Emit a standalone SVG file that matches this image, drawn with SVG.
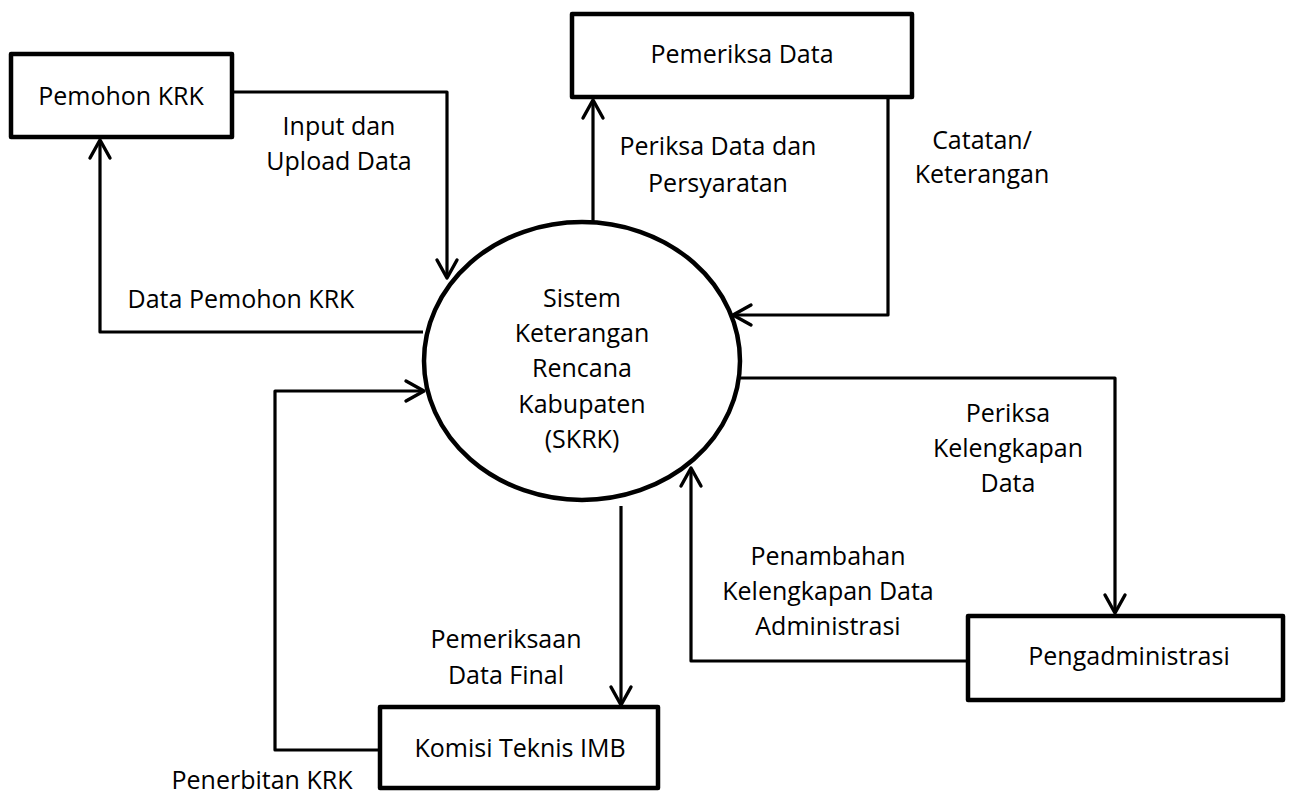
<svg xmlns="http://www.w3.org/2000/svg" width="1290" height="795" viewBox="0 0 1290 795">
<style>
.box{fill:#fff;stroke:#000;stroke-width:4.5;stroke-linejoin:round}
.proc{fill:#fff;stroke:#000;stroke-width:4.5}
.conn{fill:none;stroke:#000;stroke-width:3.2;stroke-linejoin:round;marker-end:url(#arr)}
text{font-family:"Open Sans","Liberation Sans",sans-serif;font-size:25px;fill:#000;text-anchor:middle}
</style>
<defs>
<marker id="arr" viewBox="-22 -13 26 26" markerWidth="26" markerHeight="26" refX="0" refY="0" orient="auto" markerUnits="userSpaceOnUse">
<path d="M-18,-10 L0,0 L-18,10" fill="none" stroke="#000" stroke-width="3.4" stroke-linecap="round" stroke-linejoin="round"/>
</marker>
</defs>
<rect width="1290" height="795" fill="#fff"/>
<g id="connectors">
<path class="conn" d="M232,92 H447 V278"/>
<path class="conn" d="M423,332 H100 V140"/>
<path class="conn" d="M593,223 V100"/>
<path class="conn" d="M888,97 V315 H733"/>
<path class="conn" d="M740,378 H1115 V613"/>
<path class="conn" d="M968,661 H691 V468"/>
<path class="conn" d="M621,506 V705"/>
<path class="conn" d="M380,750 H275 V391 H424"/>
<g id="labels">
<text x="339" y="135">Input dan</text>
<text x="339" y="170">Upload Data</text>
<text x="241" y="308">Data Pemohon KRK</text>
<text x="718" y="155">Periksa Data dan</text>
<text x="718" y="192">Persyaratan</text>
<text x="982" y="149">Catatan/</text>
<text x="982" y="183">Keterangan</text>
<text x="1008" y="422">Periksa</text>
<text x="1008" y="457">Kelengkapan</text>
<text x="1008" y="492">Data</text>
<text x="828" y="565">Penambahan</text>
<text x="828" y="600">Kelengkapan Data</text>
<text x="828" y="635">Administrasi</text>
<text x="506" y="648">Pemeriksaan</text>
<text x="506" y="684">Data Final</text>
<text x="262" y="789">Penerbitan KRK</text>
</g>
</g>
<g id="pemohon">
<rect class="box" x="11" y="54" width="221" height="83"/>
<text x="121" y="105">Pemohon KRK</text>
</g>
<g id="pemeriksa">
<rect class="box" x="572" y="14" width="340" height="83"/>
<text x="742" y="63">Pemeriksa Data</text>
</g>
<g id="pengadministrasi">
<rect class="box" x="968" y="616" width="315" height="84"/>
<text x="1129" y="665">Pengadministrasi</text>
</g>
<g id="komisi">
<rect class="box" x="380" y="707" width="278" height="81"/>
<text x="520" y="757">Komisi Teknis IMB</text>
</g>
<g id="skrk">
<ellipse class="proc" cx="582" cy="361" rx="158" ry="139"/>
<text x="582" y="307">Sistem</text>
<text x="582" y="342">Keterangan</text>
<text x="582" y="377">Rencana</text>
<text x="582" y="413">Kabupaten</text>
<text x="582" y="448">(SKRK)</text>
</g>
</svg>
